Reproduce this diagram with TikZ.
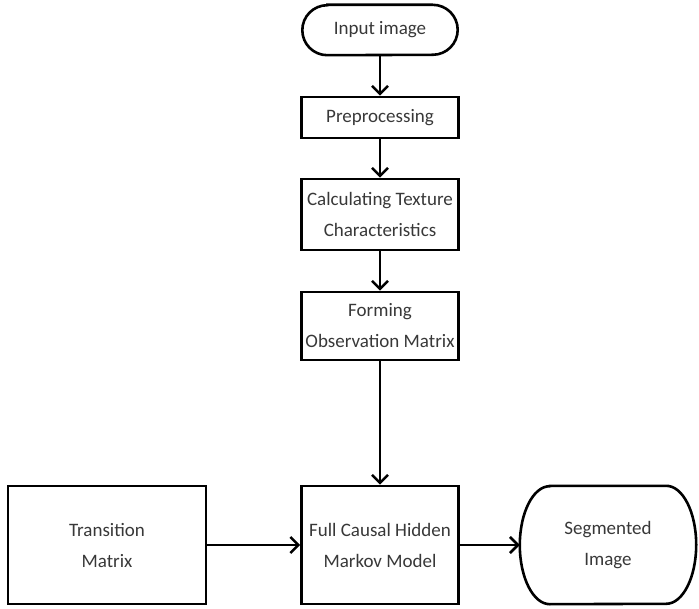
\documentclass[tikz,border=0pt]{standalone}
\usepackage{fontspec}
\setmainfont{Carlito}
\usepackage{tikz}
\usetikzlibrary{arrows.meta}

% terminal outline round a node: name, x radius, y radius
\newcommand\termline[3]{%
  \draw[line width=2.6pt] ([xshift=#2]#1.north west) -- ([xshift=-#2]#1.north east)
    arc[start angle=90, end angle=-90, x radius=#2, y radius=#3]
    -- ([xshift=#2]#1.south west)
    arc[start angle=270, end angle=90, x radius=#2, y radius=#3] -- cycle;}

\begin{document}
\begin{tikzpicture}[x=1pt,y=1pt,
    txt/.style={align=center, text=black!78, inner sep=0pt,
      font=\fontsize{19}{31}\selectfont},
    box/.style={txt, draw, line width=2.6pt},
    flow/.style={line width=2.6pt, -{Straight Barb[length=8pt,width=16pt]}}]
  \useasboundingbox (0,0) rectangle (699,-609);

  \node[txt, minimum width=155, minimum height=50] (inp) at (380,-30) {Input image};
  \termline{inp}{25pt}{25pt}
  \node[box, minimum width=157, minimum height=41] (pre) at (380,-117.5) {Preprocessing};
  \node[box, minimum width=157, minimum height=71] (tex) at (380,-214.5) {Calculating Texture\\Characteristics};
  \node[box, minimum width=157, minimum height=68] (obs) at (380,-326) {Forming\\Observation Matrix};
  \node[box, minimum width=157, minimum height=118] (hmm) at (380,-545) {Full Causal Hidden\\Markov Model};
  \node[box, minimum width=198, minimum height=118] (trans) at (107,-545) {Transition\\Matrix};
  \node[txt, minimum width=176, minimum height=118] (seg) at (608,-545) {Segmented\\Image};
  \termline{seg}{30pt}{59pt}

  \draw[flow] (inp) -- (pre);
  \draw[flow] (pre) -- (tex);
  \draw[flow] (tex) -- (obs);
  \draw[flow] (obs) -- (hmm);
  \draw[flow] (trans) -- (hmm);
  \draw[flow] (hmm) -- (seg);
\end{tikzpicture}
\end{document}
